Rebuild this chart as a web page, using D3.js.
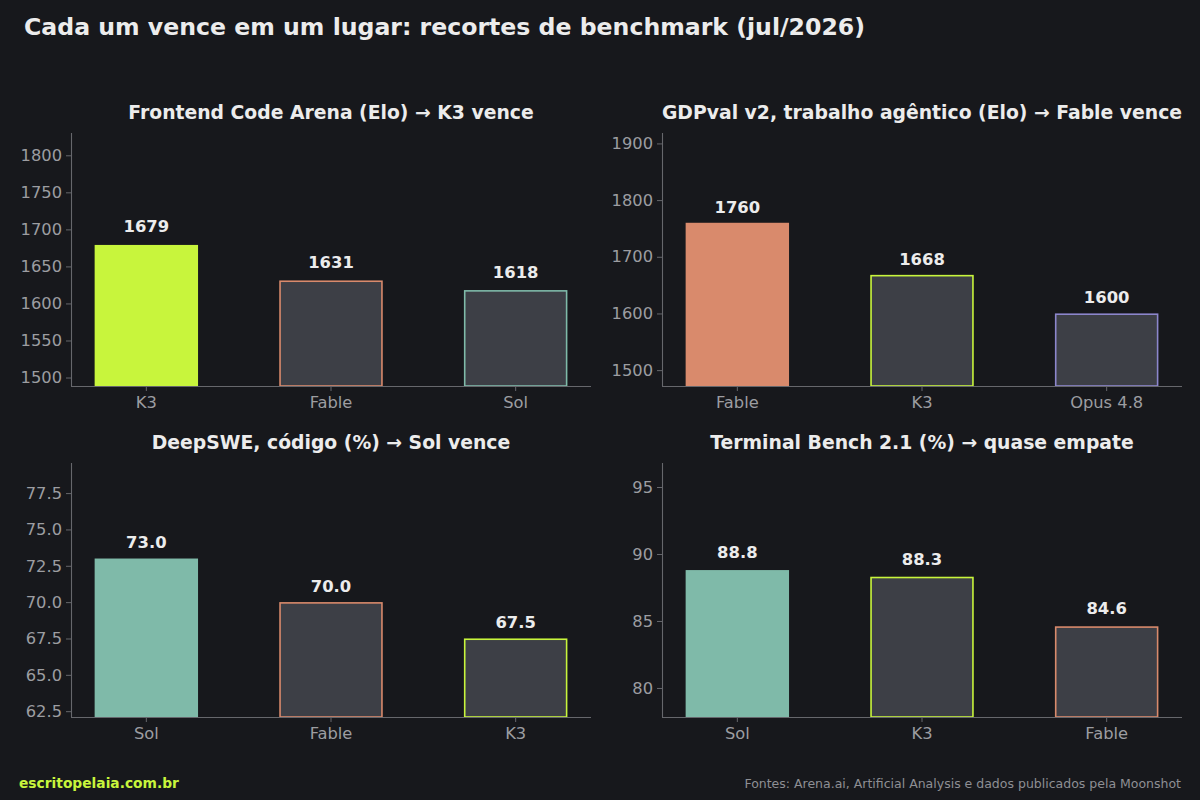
<!DOCTYPE html>
<html>
<head>
<meta charset="utf-8">
<script src="https://cdn.jsdelivr.net/npm/d3@7"></script>
<style>
  html, body { margin: 0; padding: 0; background: #17181c; }
  svg { display: block; }
</style>
</head>
<body>
<svg id="chart" width="1200" height="800"></svg>
<script>
// --- data ---
var panelTitles = [
    "Frontend Code Arena (Elo) \u2192 K3 vence",
    "GDPval v2, trabalho ag\u00eantico (Elo) \u2192 Fable vence",
    "DeepSWE, c\u00f3digo (%) \u2192 Sol vence",
    "Terminal Bench 2.1 (%) \u2192 quase empate"
];
var panelModels = [
    ["K3", "Fable", "Sol"],
    ["Fable", "K3", "Opus 4.8"],
    ["Sol", "Fable", "K3"],
    ["Sol", "K3", "Fable"]
];
var panelValues = [
    [1679, 1631, 1618],
    [1760, 1668, 1600],
    [73.0, 70.0, 67.5],
    [88.8, 88.3, 84.6]
];
var panelTicks = [
    [1500, 1550, 1600, 1650, 1700, 1750, 1800],
    [1500, 1600, 1700, 1800, 1900],
    [62.5, 65.0, 67.5, 70.0, 72.5, 75.0, 77.5],
    [80, 85, 90, 95]
];
var tickDecimals = [0, 0, 1, 0];
var valueDecimals = [0, 0, 1, 1];

var modelColors = {
    "K3": "#c8f53c",
    "Fable": "#d98a6c",
    "Sol": "#7fbaa9",
    "Opus 4.8": "#8c86cc"
};

var title = "Cada um vence em um lugar: recortes de benchmark (jul/2026)";
var footLeft = "escritopelaia.com.br";
var footRight = "Fontes: Arena.ai, Artificial Analysis e dados publicados pela Moonshot";

// --- layout ---
var svg = d3.select("#chart");
var font = "'DejaVu Sans', sans-serif";
var bg = "#17181c", barDark = "#3d3f46", spine = "#66676c", tickText = "#9c9da1", light = "#ececec";

svg.append("rect").attr("width", 1200).attr("height", 800).attr("fill", bg);

svg.append("text")
    .attr("x", 24).attr("y", 35)
    .attr("font-family", font).attr("font-weight", "bold")
    .attr("font-size", 23.6).attr("fill", light)
    .text(title);

var cols = [[71, 591], [662, 1182]];
var rows = [[133, 386], [463, 717]];

panelTitles.forEach(function(t, i) {
    var cx = cols[i % 2], cy = rows[Math.floor(i / 2)];
    var models = panelModels[i], vals = panelValues[i];
    var lo = d3.min(vals) * 0.92, hi = d3.max(vals) * 1.09;

    var x = d3.scaleBand().domain(models).range(cx).paddingInner(0.44).paddingOuter(0.128);
    var y = d3.scaleLinear().domain([lo, hi]).range([cy[1], cy[0]]);

    var g = svg.append("g");

    g.append("text")
        .attr("x", (cx[0] + cx[1]) / 2).attr("y", cy[0] - 14)
        .attr("text-anchor", "middle")
        .attr("font-family", font).attr("font-weight", "bold")
        .attr("font-size", 18.8).attr("fill", light)
        .text(t);

    // bars: winner filled, others outlined
    g.selectAll(".bar").data(models).enter().append("rect")
        .attr("x", function(d) { return x(d) + (d === models[0] ? 0 : 0.75); })
        .attr("width", function(d) { return x.bandwidth() - (d === models[0] ? 0 : 1.5); })
        .attr("y", function(d, j) { return y(vals[j]) + (j === 0 ? 0 : 0.75); })
        .attr("height", function(d, j) { return cy[1] - y(vals[j]) - (j === 0 ? 0 : 0.75); })
        .attr("fill", function(d, j) { return j === 0 ? modelColors[d] : barDark; })
        .attr("stroke", function(d, j) { return j === 0 ? "none" : modelColors[d]; })
        .attr("stroke-width", 1.6);

    var fmt = d3.format("." + valueDecimals[i] + "f");
    g.selectAll(".val").data(models).enter().append("text")
        .attr("x", function(d) { return x(d) + x.bandwidth() / 2; })
        .attr("y", function(d, j) { return y(vals[j] + d3.max(vals) * 0.01); })
        .attr("text-anchor", "middle")
        .attr("font-family", font).attr("font-weight", "bold")
        .attr("font-size", 16.4).attr("fill", light)
        .text(function(d, j) { return fmt(vals[j]); });

    var yAxis = g.append("g").attr("transform", "translate(" + cx[0] + ",0)")
        .call(d3.axisLeft(y).tickValues(panelTicks[i])
            .tickFormat(d3.format("." + tickDecimals[i] + "f")).tickSize(5).tickPadding(4));
    var xAxis = g.append("g").attr("transform", "translate(0," + cy[1] + ")")
        .call(d3.axisBottom(x).tickSize(5).tickPadding(5));

    [yAxis, xAxis].forEach(function(a) {
        a.select(".domain").attr("stroke", spine).attr("stroke-width", 1.1);
        a.selectAll(".tick line").attr("stroke", spine);
        a.selectAll(".tick text")
            .attr("fill", tickText).attr("font-family", font).attr("font-size", 16.3);
    });
    // spines without end caps
    yAxis.select(".domain").attr("d", "M0.5," + cy[0] + "V" + cy[1]);
    xAxis.select(".domain").attr("d", "M" + cx[0] + ",0.5H" + cx[1]);
});

svg.append("text")
    .attr("x", 19).attr("y", 788)
    .attr("font-family", font).attr("font-weight", "bold")
    .attr("font-size", 13.8).attr("fill", "#c8f53c")
    .text(footLeft);

svg.append("text")
    .attr("x", 1181).attr("y", 788)
    .attr("text-anchor", "end")
    .attr("font-family", font)
    .attr("font-size", 12.5).attr("fill", "#8e8f94")
    .text(footRight);
</script>
</body>
</html>
